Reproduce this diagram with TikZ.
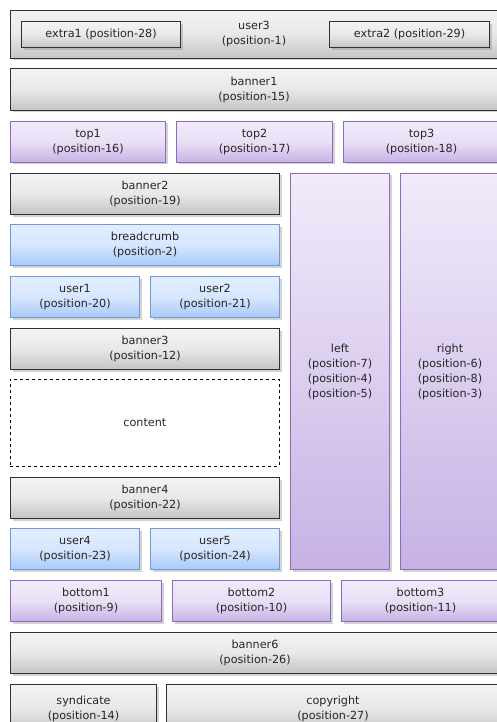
\documentclass[tikz,border=0pt]{standalone}
\usepackage{fontspec}
\setmainfont{DejaVu Sans}
\usetikzlibrary{shadows}
\definecolor{gtop}{HTML}{F3F3F3}
\definecolor{gmid}{HTML}{E8E8E8}
\definecolor{gbot}{HTML}{C4C4C4}
\definecolor{gline}{HTML}{303030}
\definecolor{btop}{HTML}{E4EEFF}
\definecolor{bmid}{HTML}{D6E6FE}
\definecolor{bbot}{HTML}{A8CAF7}
\definecolor{bline}{HTML}{6E9BD5}
\definecolor{ptop}{HTML}{F2EBFA}
\definecolor{pmid}{HTML}{E9DFF6}
\definecolor{pbot}{HTML}{C6B2E4}
\definecolor{pline}{HTML}{8B6BBD}
\tikzset{
  base/.style={anchor=north west, inner sep=0pt, align=center,
    font=\fontsize{11.2}{15}\selectfont, text=black!85,
    drop shadow={opacity=0.35, shadow xshift=2pt, shadow yshift=-2pt}},
  gbox/.style={base, draw=gline, line width=1pt, top color=gtop, bottom color=gbot, middle color=gmid},
  bbox/.style={base, draw=bline, line width=1pt, top color=btop, bottom color=bbot, middle color=bmid},
  pbox/.style={base, draw=pline, line width=1pt, top color=ptop, bottom color=pbot, middle color=pmid},
  colbox/.style={base, draw=pline, line width=1pt, top color=ptop, bottom color=pbot},
  dbox/.style={anchor=north west, inner sep=0pt, align=center,
    font=\fontsize{11.2}{15}\selectfont, text=black!85,
    draw=black, dashed, line width=0.8pt, fill=white},
}
\begin{document}
\begin{tikzpicture}[x=1pt,y=-1pt]
\useasboundingbox (0,0) rectangle (497,722);
% header
\node[gbox, minimum width=487pt, minimum height=48pt] (user3) at (10,10) {user3\\(position-1)};
\node[gbox, line width=1.2pt, minimum width=159pt, minimum height=26pt] (extra1) at (21,21) {extra1 (position-28)};
\node[gbox, line width=1.2pt, minimum width=160pt, minimum height=26pt] (extra2) at (329,21) {extra2 (position-29)};
\node[gbox, minimum width=487pt, minimum height=42pt] (banner1) at (10,68) {banner1\\(position-15)};
% tops
\node[pbox, minimum width=155pt, minimum height=41pt] (top1) at (10,121) {top1\\(position-16)};
\node[pbox, minimum width=156pt, minimum height=41pt] (top2) at (176,121) {top2\\(position-17)};
\node[pbox, minimum width=156pt, minimum height=41pt] (top3) at (343,121) {top3\\(position-18)};
% main column
\node[gbox, minimum width=269pt, minimum height=41pt] (banner2) at (10,173) {banner2\\(position-19)};
\node[bbox, minimum width=269pt, minimum height=41pt] (breadcrumb) at (10,224) {breadcrumb\\(position-2)};
\node[bbox, minimum width=129pt, minimum height=41pt] (user1) at (10,276) {user1\\(position-20)};
\node[bbox, minimum width=129pt, minimum height=41pt] (user2) at (150,276) {user2\\(position-21)};
\node[gbox, minimum width=269pt, minimum height=41pt] (banner3) at (10,328) {banner3\\(position-12)};
\node[dbox, minimum width=269pt, minimum height=87pt] (content) at (10,379) {content};
\node[gbox, minimum width=269pt, minimum height=41pt] (banner4) at (10,477) {banner4\\(position-22)};
\node[bbox, minimum width=129pt, minimum height=41pt] (user4) at (10,528) {user4\\(position-23)};
\node[bbox, minimum width=129pt, minimum height=41pt] (user5) at (150,528) {user5\\(position-24)};
% side columns
\node[colbox, minimum width=99pt, minimum height=396pt] (left) at (290,173) {left\\(position-7)\\(position-4)\\(position-5)};
\node[colbox, minimum width=99pt, minimum height=396pt] (right) at (400,173) {right\\(position-6)\\(position-8)\\(position-3)};
% bottoms
\node[pbox, minimum width=151pt, minimum height=41pt] (bottom1) at (10,580) {bottom1\\(position-9)};
\node[pbox, minimum width=158pt, minimum height=41pt] (bottom2) at (172,580) {bottom2\\(position-10)};
\node[pbox, minimum width=158pt, minimum height=41pt] (bottom3) at (341,580) {bottom3\\(position-11)};
\node[gbox, minimum width=489pt, minimum height=41pt] (banner6) at (10,632) {banner6\\(position-26)};
\node[gbox, minimum width=146pt, minimum height=48pt] (syndicate) at (10,684) {syndicate\\(position-14)};
\node[gbox, minimum width=333pt, minimum height=48pt] (copyright) at (166,684) {copyright\\(position-27)};
\end{tikzpicture}
\end{document}
